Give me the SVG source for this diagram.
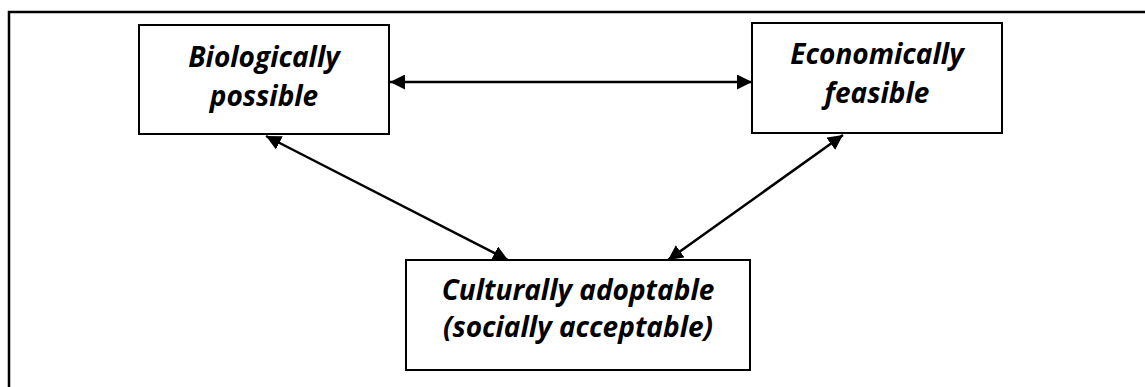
<svg xmlns="http://www.w3.org/2000/svg" width="1145" height="387" viewBox="0 0 1145 387">
<style>
.box{fill:#fff;stroke:#000;stroke-width:2}
.lbl{font-family:"Open Sans","Noto Sans","Liberation Sans",sans-serif;font-weight:bold;font-style:italic;font-size:28px;text-anchor:middle;fill:#000}
.conn{stroke:#000;stroke-width:2.5;fill:none;marker-start:url(#ah);marker-end:url(#ah)}
</style>
<defs>
<marker id="ah" viewBox="0 0 10 10" refX="10" refY="5" markerWidth="6" markerHeight="6" orient="auto-start-reverse" markerUnits="strokeWidth">
<path d="M0,0 L10,5 L0,10 Z" fill="#000"/>
</marker>
</defs>
<rect width="1145" height="387" fill="#fff"/>
<polyline points="9,387 9,12 1145,12" fill="none" stroke="#000" stroke-width="2.5"/>
<g id="connectors">
<line class="conn" x1="390" y1="82" x2="752" y2="82"/>
<line class="conn" x1="266" y1="136" x2="508" y2="260"/>
<line class="conn" x1="843" y1="135" x2="668" y2="260"/>
</g>
<g id="biologically">
<rect class="box" x="139" y="25" width="250" height="109"/>
<text class="lbl" x="264" y="67">Biologically</text>
<text class="lbl" x="264" y="106">possible</text>
</g>
<g id="economically">
<rect class="box" x="752" y="23" width="250" height="110"/>
<text class="lbl" x="877" y="64">Economically</text>
<text class="lbl" x="877" y="103">feasible</text>
</g>
<g id="culturally">
<rect class="box" x="406" y="260" width="344" height="110"/>
<text class="lbl" x="578" y="300">Culturally adoptable</text>
<text class="lbl" x="578" y="337">(socially acceptable)</text>
</g>
</svg>
